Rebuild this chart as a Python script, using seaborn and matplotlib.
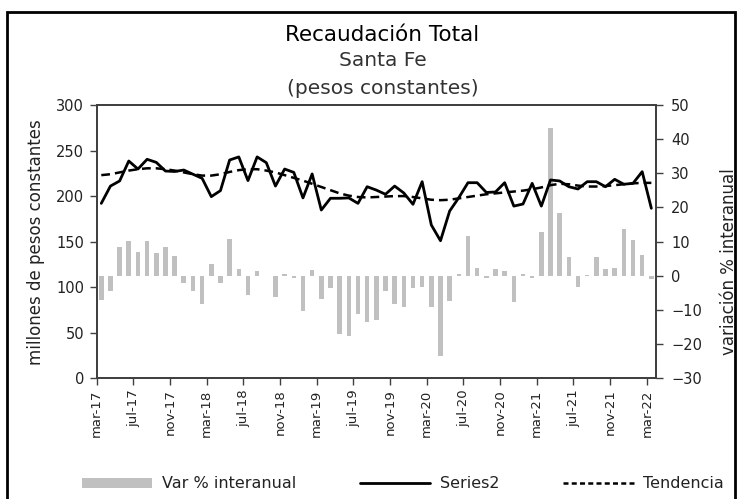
import numpy as np
import pandas as pd
import matplotlib
matplotlib.use("Agg")
import matplotlib.pyplot as plt
from matplotlib.lines import Line2D
from matplotlib.patches import Patch, Rectangle
import seaborn as sns

sns.set_theme(style="white")
plt.rcParams["font.family"] = ["DejaVu Sans"]

# Monthly collection, mar-2017 .. mar-2022
meses = ["mar", "abr", "may", "jun", "jul", "ago", "sep", "oct", "nov", "dic", "ene", "feb"]
periodos = []
anio = 17
for k in range(61):
    m = meses[k % 12]
    if m == "ene":
        anio += 1
    periodos.append(f"{m}-{anio}")

recaudacion = [192, 211, 216.6, 238.5, 229.7, 240.4, 237, 227.5, 227, 228.6, 224, 219.5,
               199.4, 206, 239.6, 243, 217, 243, 236.7, 211, 229.7, 226, 198, 224.3,
               184.7, 197.6, 197.6, 198, 192, 210.3, 206.6, 202, 211, 203.4, 191, 215.8,
               168.3, 151, 183.6, 198.3, 214.7, 214.7, 204, 204.5, 214.7, 189, 191.3, 214,
               189, 217.7, 216.6, 210.3, 207.8, 215.8, 215.8, 210.3, 218.4, 213, 214, 226.8,
               186.6]

tendencia = [223, 224, 226, 228, 229.5, 230.5, 230.5, 229.5, 228, 226, 224, 222.5,
             222.5, 224, 226.5, 228.5, 229.5, 229.5, 228, 226, 223, 220, 217, 213.5,
             210, 206.5, 203, 200.5, 199, 198.5, 199, 199.5, 200, 200, 199, 197.5,
             196, 195.5, 196, 197.5, 199, 200.5, 202, 203, 204, 205, 206, 207.5,
             209.5, 212, 213.5, 213, 211.5, 210.5, 210.5, 211, 212, 213, 214, 214.5,
             214.5]

var_interanual = [-7.1, -4.4, 8.3, 10.2, 7.1, 10.2, 6.7, 8.3, 5.7, -2.2, -4.4, -8.3,
                  3.4, -2.2, 10.9, 2.0, -5.7, 1.5, -0.2, -6.3, 0.5, -0.5, -10.2, 1.8,
                  -6.7, -3.7, -17.1, -17.7, -11.2, -13.5, -12.8, -4.4, -8.3, -9.0, -3.7, -3.4,
                  -9.0, -23.6, -7.5, 0.5, 11.7, 2.2, -0.7, 2.0, 1.5, -7.8, 0.4, -0.5,
                  12.9, 43.2, 18.5, 5.4, -3.4, 0.2, 5.4, 2.0, 2.4, 13.7, 10.5, 6.0,
                  -1.0]

df = pd.DataFrame({
    "pos": np.arange(len(periodos)),
    "periodo": periodos,
    "Series2": recaudacion,
    "Tendencia": tendencia,
    "Var": var_interanual,
})

fig = plt.figure(figsize=(7.37, 4.99), dpi=100)
ax = fig.add_axes([0.1312, 0.2419, 0.7588, 0.5477])
ax2 = ax.twinx()

gris = "#c0c0c0"
eje = "#404040"
texto = "#222222"

sns.barplot(data=df, x="pos", y="Var", ax=ax2, native_scale=True, color=gris,
            width=0.5, saturation=1, edgecolor="none")
sns.lineplot(data=df, x="pos", y="Series2", ax=ax, color="black", linewidth=2.0)
sns.lineplot(data=df, x="pos", y="Tendencia", ax=ax, color="black", linewidth=1.8,
             linestyle=(0, (3.5, 2)))

ax.set_zorder(ax2.get_zorder() + 1)
ax.patch.set_visible(False)

ax.set_xlim(-0.5, 60.5)
ax.set_ylim(0, 300)
ax2.set_ylim(-30, 50)
ax.set_yticks(np.arange(0, 301, 50))
ax2.set_yticks(np.arange(-30, 51, 10))

tick_pos = np.arange(0, 61, 4)
ax.set_xticks(tick_pos - 0.5)
ax.set_xticklabels([periodos[i] for i in tick_pos], rotation=90, fontsize=9.5,
                   color=texto)
ax.tick_params(axis="y", labelsize=10.5, labelcolor=texto)
ax2.tick_params(axis="y", labelsize=10.5, labelcolor=texto)
for a in (ax, ax2):
    a.tick_params(direction="out", length=5, width=1.0, color=eje)
    for s in a.spines.values():
        s.set_color(eje)
        s.set_linewidth(1.3)
ax.tick_params(axis="x", bottom=True, length=5, width=1.0, color=eje, pad=3)
ax.tick_params(axis="y", left=True, pad=4)
ax2.tick_params(axis="y", right=True, pad=6)

ax.set_xlabel("")
ax.set_ylabel("millones de pesos constantes", fontsize=12, color=texto, labelpad=8)
ax2.set_ylabel("")
fig.text(729 / 737, 1 - 262 / 499, "variación % interanual", rotation=90,
         ha="center", va="center", fontsize=12, color=texto)

fig.text(0.519, 1 - 35 / 499, "Recaudación Total", ha="center", va="center",
         fontsize=15.5, color="black")
fig.text(0.519, 1 - 61 / 499, "Santa Fe", ha="center", va="center", fontsize=14.5,
         color="#333333")
fig.text(0.519, 1 - 88 / 499, "(pesos constantes)", ha="center", va="center",
         fontsize=14.5, color="#333333")

handles = [
    Patch(facecolor=gris, edgecolor="none", label="Var % interanual"),
    Line2D([], [], color="black", linewidth=2.0, label="Series2"),
    Line2D([], [], color="black", linewidth=1.8, linestyle=(0, (2, 1.3)), label="Tendencia"),
]
fig.legend(handles=handles, loc="center", bbox_to_anchor=(0.547, 1 - 484 / 499), ncol=3,
           frameon=False, fontsize=11.5, handlelength=4.4, handleheight=0.6,
           columnspacing=4.0, handletextpad=0.6, labelcolor=texto)

fig.patches.append(Rectangle((7 / 737, -0.02), 728 / 737, (499 - 12) / 499 + 0.02,
                             transform=fig.transFigure, fill=False,
                             edgecolor="black", linewidth=2.0))

fig.savefig("out.png", dpi=100)
